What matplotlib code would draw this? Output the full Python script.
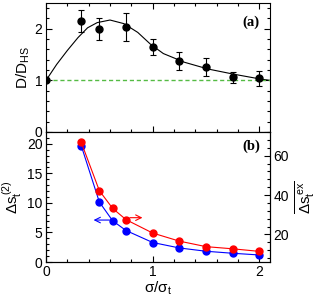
import numpy as np
import matplotlib
matplotlib.use("Agg")
import matplotlib.pyplot as plt
from matplotlib.ticker import MultipleLocator

plt.rcParams['font.family'] = ['Liberation Sans', 'DejaVu Sans']
plt.rcParams['mathtext.fontset'] = 'custom'
plt.rcParams['mathtext.rm'] = 'Liberation Sans'
plt.rcParams['mathtext.it'] = 'Liberation Sans'
plt.rcParams['mathtext.default'] = 'regular'

# - panel (a) data - #
x_a = [0.0, 0.33, 0.5, 0.75, 1.0, 1.25, 1.5, 1.75, 2.0]
d_a = [1.0, 2.15, 2.0, 2.04, 1.65, 1.38, 1.26, 1.06, 1.04]
err_a = [0.0, 0.22, 0.21, 0.27, 0.16, 0.17, 0.17, 0.11, 0.14]

# fitted curve
x_fit = [0.0, 0.1, 0.2, 0.3, 0.39, 0.48, 0.6, 0.73, 0.86, 0.98, 1.1, 1.3, 1.52, 1.76, 2.0, 2.1]
d_fit = [1.0, 1.31, 1.58, 1.83, 2.02, 2.12, 2.17, 2.10, 1.93, 1.70, 1.52, 1.35, 1.22, 1.12, 1.03, 1.0]

# - panel (b) data - #
x_b = [0.33, 0.5, 0.625, 0.75, 1.0, 1.25, 1.5, 1.75, 2.0]
ds2 = [19.7, 10.15, 6.97, 5.33, 3.3, 2.38, 1.82, 1.48, 1.19]
dsex = [66.8, 42.2, 33.2, 27.5, 20.7, 16.6, 13.8, 12.7, 11.4]

def style_axis(ax):
    ax.tick_params(which='both', direction='in', top=True, right=True, labelsize=10, pad=2.5)
    ax.tick_params(which='major', length=4, width=0.8)
    ax.tick_params(which='minor', length=2.2, width=0.8)
    ax.xaxis.set_major_locator(MultipleLocator(1))
    ax.xaxis.set_minor_locator(MultipleLocator(0.2))

fig = plt.figure(figsize=(3.22, 2.97), dpi=100)
ax1 = fig.add_axes([0.1429, 0.5556, 0.6957, 0.4343])
ax2 = fig.add_axes([0.1429, 0.1178, 0.6957, 0.4378])

# - top panel - #
style_axis(ax1)
ax1.plot(x_fit, d_fit, color='black', lw=0.8)
ax1.axhline(1.0, color='#55bb44', ls='--', lw=1.0, dashes=(3, 2))
ax1.errorbar(x_a, d_a, yerr=err_a, fmt='o', color='black', ms=5,
             elinewidth=0.8, capsize=2.5, capthick=0.8, zorder=5)
ax1.set_xlim(0, 2.1); ax1.set_ylim(0, 2.5)
ax1.yaxis.set_major_locator(MultipleLocator(1))
ax1.yaxis.set_minor_locator(MultipleLocator(0.2))
ax1.set_xticklabels([])
ax1.set_ylabel(r'$D/D_{HS}$', fontsize=11, labelpad=2)
ax1.text(0.955, 0.85, '(a)', transform=ax1.transAxes, ha='right', va='center',
         fontsize=10.5, fontweight='bold', family='Liberation Serif')

# - bottom panel - #
style_axis(ax2)
ax2.tick_params(which='both', top=False, right=False)
ax2.plot(x_b, ds2, '-o', color='blue', ms=5, lw=0.8, zorder=4)
ax2.set_xlim(0, 2.1); ax2.set_ylim(0, 22)
ax2.yaxis.set_major_locator(MultipleLocator(5))
ax2.yaxis.set_minor_locator(MultipleLocator(1))
ax2.set_ylabel(r'$\Delta s_t^{\,(2)}$', fontsize=11, labelpad=2)
ax2.set_xlabel(r'$\sigma/\sigma_t$', fontsize=11, labelpad=0)

ax3 = ax2.twinx()
ax3.plot(x_b, dsex, '-o', color='red', ms=5, lw=0.8, zorder=4)
ax3.set_ylim(6, 72)
ax3.tick_params(which='both', direction='in', labelsize=10, pad=2.5)
ax3.tick_params(which='major', length=4, width=0.8)
ax3.tick_params(which='minor', length=2.2, width=0.8)
ax3.yaxis.set_major_locator(MultipleLocator(20))
ax3.yaxis.set_minor_locator(MultipleLocator(4))
ax3.set_ylabel(r'$\overline{\Delta s_t^{\,ex}}$', fontsize=11, labelpad=3)

ax2.annotate('', xy=(0.42, 7.1), xytext=(0.62, 7.1),
             arrowprops=dict(arrowstyle='->', color='blue', lw=0.8))
ax2.annotate('', xy=(0.93, 7.5), xytext=(0.76, 7.5),
             arrowprops=dict(arrowstyle='->', color='red', lw=0.8))
ax2.text(0.955, 0.89, '(b)', transform=ax2.transAxes, ha='right', va='center',
         fontsize=10.5, fontweight='bold', family='Liberation Serif')

fig.savefig("out.png", dpi=100)
